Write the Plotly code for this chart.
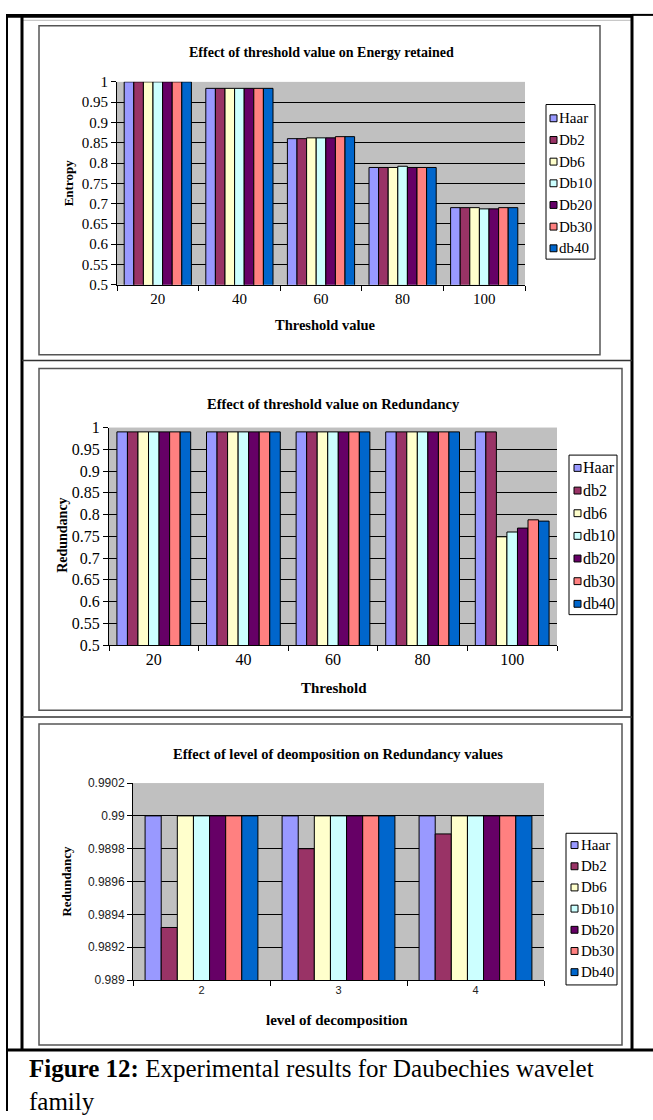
import plotly.graph_objects as go

W, H = 653, 1120

# ---- data -------------------------------------------------------------
thresholds = ["20", "40", "60", "80", "100"]
levels = ["2", "3", "4"]
colors = ["#9999FF", "#993366", "#FFFFCC", "#CCFFFF", "#660066", "#FF8080", "#0066CC"]

energy_names = ["Haar", "Db2", "Db6", "Db10", "Db20", "Db30", "db40"]
energy_values = [
    [1.0, 0.984, 0.860, 0.789, 0.690],
    [1.0, 0.984, 0.860, 0.789, 0.690],
    [1.0, 0.984, 0.862, 0.789, 0.690],
    [1.0, 0.984, 0.862, 0.792, 0.687],
    [1.0, 0.984, 0.862, 0.789, 0.687],
    [1.0, 0.984, 0.865, 0.789, 0.690],
    [1.0, 0.984, 0.865, 0.789, 0.690],
]

redund_names = ["Haar", "db2", "db6", "db10", "db20", "db30", "db40"]
redund_values = [
    [0.99, 0.99, 0.99, 0.99, 0.990],
    [0.99, 0.99, 0.99, 0.99, 0.990],
    [0.99, 0.99, 0.99, 0.99, 0.749],
    [0.99, 0.99, 0.99, 0.99, 0.760],
    [0.99, 0.99, 0.99, 0.99, 0.769],
    [0.99, 0.99, 0.99, 0.99, 0.788],
    [0.99, 0.99, 0.99, 0.99, 0.785],
]

level_names = ["Haar", "Db2", "Db6", "Db10", "Db20", "Db30", "Db40"]
level_values = [
    [0.99, 0.99, 0.99],
    [0.98932, 0.98980, 0.98989],
    [0.99, 0.99, 0.99],
    [0.99, 0.99, 0.99],
    [0.99, 0.99, 0.99],
    [0.99, 0.99, 0.99],
    [0.99, 0.99, 0.99],
]

ticks_a = [0.5, 0.55, 0.6, 0.65, 0.7, 0.75, 0.8, 0.85, 0.9, 0.95, 1.0]
ticks_a_text = ["0.5", "0.55", "0.6", "0.65", "0.7", "0.75", "0.8", "0.85", "0.9", "0.95", "1"]
ticks_c = [0.989, 0.9892, 0.9894, 0.9896, 0.9898, 0.99, 0.9902]
ticks_c_text = ["0.989", "0.9892", "0.9894", "0.9896", "0.9898", "0.99", "0.9902"]

SERIF = "Liberation Serif"
SANS = "Liberation Sans"


def px(x):
    return x / W


def py(y):
    return 1 - y / H


fig = go.Figure()

charts = [
    ("x", "y", thresholds, energy_names, energy_values),
    ("x2", "y2", thresholds, redund_names, redund_values),
    ("x3", "y3", levels, level_names, level_values),
]
for xa, ya, cats, names, values in charts:
    for name, color, vals in zip(names, colors, values):
        fig.add_trace(go.Bar(
            x=cats, y=vals, name=name, xaxis=xa, yaxis=ya,
            marker=dict(color=color, line=dict(color="black", width=1)),
            showlegend=False,
        ))


def xaxis_cfg(x0, x1, y_anchor, font):
    return dict(
        domain=[px(x0), px(x1)], anchor=y_anchor, type="category",
        showline=True, linecolor="black", linewidth=1,
        ticks="outside", ticklen=5, tickcolor="black", tickson="boundaries",
        showgrid=False, tickfont=font, fixedrange=True,
    )


def yaxis_cfg(y_top, y_bot, x_anchor, rng, tv, tt, font):
    return dict(
        domain=[py(y_bot), py(y_top)], anchor=x_anchor, range=rng,
        tickvals=tv, ticktext=tt,
        showline=True, linecolor="black", linewidth=1,
        ticks="outside", ticklen=5, tickcolor="black",
        showgrid=True, gridcolor="black", gridwidth=1, zeroline=False,
        tickfont=font, fixedrange=True,
    )


font_a = dict(family=SERIF, size=15, color="black")
font_b = dict(family=SERIF, size=16, color="black")
font_c = dict(family=SANS, size=11, color="#222")

fig.update_layout(
    width=W, height=H,
    margin=dict(l=0, r=0, t=0, b=0),
    paper_bgcolor="white", plot_bgcolor="#C0C0C0",
    barmode="group", bargap=1.5 / 8.5, bargroupgap=0,
    showlegend=False,
    xaxis=xaxis_cfg(117, 525, "y", font_a),
    yaxis=yaxis_cfg(75, 281, "x", [0.5, 1.0], ticks_a, ticks_a_text, font_a),
    xaxis2=xaxis_cfg(109, 557, "y2", font_b),
    yaxis2=yaxis_cfg(426, 647, "x2", [0.5, 1.0], ticks_a, ticks_a_text, font_b),
    xaxis3=xaxis_cfg(133, 544, "y3", font_c),
    yaxis3=yaxis_cfg(787, 987, "x3", [0.989, 0.9902], ticks_c, ticks_c_text,
                     dict(family=SANS, size=12, color="#222")),
)

shapes = []
annotations = []


def hline(x0, x1, y, color="black", width=1):
    shapes.append(dict(type="line", xref="paper", yref="paper",
                       x0=px(x0), x1=px(x1), y0=py(y), y1=py(y),
                       line=dict(color=color, width=width)))


def vline(x, y0, y1, color="black", width=1):
    shapes.append(dict(type="line", xref="paper", yref="paper",
                       x0=px(x), x1=px(x), y0=py(y0), y1=py(y1),
                       line=dict(color=color, width=width)))


def rect(x0, y0, x1, y1, line_color="black", width=1, fill="rgba(0,0,0,0)"):
    shapes.append(dict(type="rect", xref="paper", yref="paper",
                       x0=px(x0), x1=px(x1), y0=py(y1), y1=py(y0),
                       line=dict(color=line_color, width=width), fillcolor=fill))


def text(x, y, s, font, xanchor="center", yanchor="middle", angle=0, align="center"):
    annotations.append(dict(xref="paper", yref="paper", x=px(x), y=py(y), text=s,
                            showarrow=False, font=font, xanchor=xanchor,
                            yanchor=yanchor, textangle=angle, align=align))


# table rules around the three panels
rect(7, 6, 632, 10, line_color="black", width=0, fill="black")
hline(632, 653, 7, width=2)
hline(23, 631, 12.5, color="#BBBBBB", width=1)
vline(7, 6, 1120, width=2)
vline(22, 6, 1059, width=3)
vline(632, 6, 1059, width=3)
hline(22, 632, 358, color="#333333", width=1.5)
hline(22, 632, 720, color="#333333", width=1.5)
hline(7, 653, 1058, width=3)

# chart frames
rect(39, 18, 600, 352, line_color="#555555", width=1.5)
rect(39, 366, 622, 713, line_color="#555555", width=1.5)
rect(39, 727, 622, 1053, line_color="#555555", width=1.5)


def legend_box(names, x0, x1, y0, y1, first_y, step, sw_x, tx, size):
    rect(x0, y0, x1, y1, line_color="black", width=1, fill="white")
    for i, (name, color) in enumerate(zip(names, colors)):
        cy = first_y + i * step
        rect(sw_x, cy - 3.5, sw_x + 7, cy + 3.5, line_color="black", width=1, fill=color)
        text(tx, cy, name, dict(family=SERIF, size=size, color="black"), xanchor="left")


legend_box(energy_names, 546, 595, 98, 255, 112, 22, 550, 557, 15)
legend_box(redund_names, 569, 617, 454, 616, 467, 23, 574, 581, 16)
legend_box(level_names, 566, 617, 838, 992, 850, 21.5, 571, 579, 15)

# titles
bold = lambda size: dict(family=SERIF, size=size, color="black", weight="bold")
text(321, 45, "Effect of threshold value on Energy retained", bold(14))
text(325, 322, "Threshold value", bold(14.5))
text(68, 178, "Entropy", bold(13), angle=-90)

text(333, 402, "Effect of threshold value on Redundancy", bold(14.5))
text(334, 690, "Threshold", bold(15))
text(63, 536, "Redundancy", bold(14), angle=-90)

text(338, 757, "Effect of level of deomposition on Redundancy values", bold(14.5))
text(337, 1028, "level of decomposition", bold(15))
text(67, 887, "Redundancy", bold(13), angle=-90)

text(27, 1061, "<b>Figure 12:</b> Experimental results for Daubechies wavelet<br>family",
     dict(family=SERIF, size=25, color="black"), xanchor="left", yanchor="top", align="left")

fig.update_layout(shapes=shapes, annotations=annotations)
fig.write_html("out.html")
